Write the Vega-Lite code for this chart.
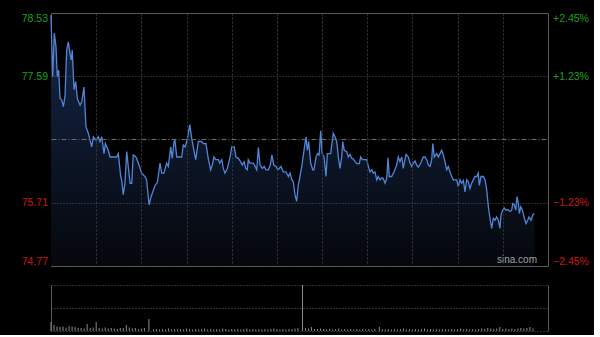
{
  "$schema": "https://vega.github.io/schema/vega-lite/v6.json",
  "background": "#000000",
  "padding": {"left": 20, "top": 11, "right": 5, "bottom": 4},
  "bounds": "flush",
  "spacing": 19,
  "config": {
    "view": {"stroke": "#5a5a5a", "strokeWidth": 1},
    "axis": {"labelFont": "Liberation Sans", "labelFontSize": 10.5, "title": null, "ticks": false, "domain": false}
  },
  "datasets": {
    "price": [
      {"t":0,"p":78.50},{"t":1.1,"p":77.58},{"t":2.2,"p":78.23},{"t":3.3,"p":78.03},{"t":4.2,"p":77.58},{"t":5.1,"p":77.68},{"t":6.0,"p":77.26},{"t":7.1,"p":77.24},{"t":8.2,"p":77.14},{"t":9.3,"p":77.29},
      {"t":10.4,"p":77.98},{"t":11.5,"p":78.10},{"t":12.6,"p":77.93},{"t":13.5,"p":77.83},{"t":14.1,"p":77.98},{"t":15.3,"p":77.39},{"t":16.4,"p":77.51},{"t":17.5,"p":77.26},{"t":19.3,"p":77.16},{"t":20.4,"p":77.21},
      {"t":21.9,"p":77.43},{"t":23.2,"p":76.84},{"t":24.8,"p":76.74},{"t":27.0,"p":76.54},{"t":28.1,"p":76.69},{"t":29.9,"p":76.64},{"t":31.4,"p":76.69},{"t":32.5,"p":76.62},{"t":33.7,"p":76.69},{"t":35.2,"p":76.44},
      {"t":36.1,"p":76.59},{"t":38.0,"p":76.49},{"t":39.2,"p":76.39},{"t":43.6,"p":76.39},{"t":44.7,"p":76.44},{"t":46.3,"p":76.10},{"t":46.9,"p":76.05},{"t":48.0,"p":75.83},{"t":49.1,"p":76.00},{"t":50.3,"p":76.47},
      {"t":51.3,"p":76.25},{"t":52.5,"p":76.00},{"t":53.6,"p":76.00},{"t":54.6,"p":76.42},{"t":56.4,"p":76.39},{"t":58.0,"p":76.30},{"t":60.2,"p":76.15},{"t":62.4,"p":76.10},{"t":63.5,"p":76.05},{"t":65.1,"p":75.68},
      {"t":66.2,"p":75.78},{"t":67.5,"p":75.87},{"t":69.1,"p":75.97},{"t":70.6,"p":76.01},{"t":72.4,"p":76.30},{"t":73.5,"p":76.15},{"t":75.0,"p":76.15},{"t":76.8,"p":76.30},{"t":77.9,"p":76.25},{"t":79.5,"p":76.54},
      {"t":80.5,"p":76.37},{"t":81.7,"p":76.62},{"t":82.3,"p":76.64},{"t":83.5,"p":76.39},{"t":86.8,"p":76.39},{"t":87.8,"p":76.57},{"t":89.0,"p":76.54},{"t":90.1,"p":76.62},{"t":91.2,"p":76.74},{"t":92.1,"p":76.87},
      {"t":93.4,"p":76.67},{"t":94.9,"p":76.49},{"t":96.1,"p":76.35},{"t":97.8,"p":76.62},{"t":100.1,"p":76.62},{"t":101.1,"p":76.59},{"t":102.9,"p":76.59},{"t":104.4,"p":76.37},{"t":106.0,"p":76.20},{"t":107.1,"p":76.27},
      {"t":108.2,"p":76.39},{"t":109.4,"p":76.35},{"t":111.1,"p":76.35},{"t":112.0,"p":76.30},{"t":113.4,"p":76.35},{"t":114.4,"p":76.22},{"t":115.5,"p":76.15},{"t":117.1,"p":76.22},{"t":118.9,"p":76.39},{"t":120.0,"p":76.54},
      {"t":121.7,"p":76.54},{"t":122.8,"p":76.39},{"t":124.4,"p":76.37},{"t":125.9,"p":76.32},{"t":127.0,"p":76.27},{"t":128.2,"p":76.32},{"t":129.3,"p":76.22},{"t":130.3,"p":76.20},{"t":131.0,"p":76.35},{"t":132.1,"p":76.30},
      {"t":134.3,"p":76.30},{"t":135.5,"p":76.25},{"t":136.6,"p":76.20},{"t":137.7,"p":76.53},{"t":138.8,"p":76.27},{"t":140.3,"p":76.22},{"t":141.6,"p":76.25},{"t":142.8,"p":76.20},{"t":144.3,"p":76.20},{"t":145.6,"p":76.27},
      {"t":146.7,"p":76.42},{"t":147.9,"p":76.27},{"t":149.4,"p":76.25},{"t":150.5,"p":76.20},{"t":151.6,"p":76.22},{"t":152.7,"p":76.25},{"t":154.2,"p":76.17},{"t":156.0,"p":76.17},{"t":157.6,"p":76.10},{"t":158.7,"p":76.15},
      {"t":159.8,"p":76.06},{"t":160.9,"p":76.02},{"t":162.0,"p":75.83},{"t":163.1,"p":75.73},{"t":164.2,"p":75.97},{"t":165.3,"p":76.10},{"t":166.5,"p":76.25},{"t":168.0,"p":76.49},{"t":169.3,"p":76.69},{"t":170.2,"p":76.49},
      {"t":171.1,"p":76.62},{"t":172.4,"p":76.30},{"t":173.8,"p":76.20},{"t":174.6,"p":76.20},{"t":176.0,"p":76.39},{"t":177.1,"p":76.44},{"t":178.0,"p":76.42},{"t":179.1,"p":76.78},{"t":180.0,"p":76.44},{"t":181.3,"p":76.39},
      {"t":182.6,"p":76.10},{"t":183.5,"p":76.44},{"t":185.7,"p":76.44},{"t":187.4,"p":76.74},{"t":188.6,"p":76.69},{"t":189.7,"p":76.62},{"t":190.8,"p":76.39},{"t":191.9,"p":76.22},{"t":193.0,"p":76.39},{"t":193.7,"p":76.62},
      {"t":194.7,"p":76.49},{"t":196.3,"p":76.47},{"t":197.4,"p":76.39},{"t":198.5,"p":76.43},{"t":199.7,"p":76.37},{"t":200.7,"p":76.36},{"t":201.9,"p":76.32},{"t":203.0,"p":76.29},{"t":204.7,"p":76.29},{"t":205.6,"p":76.39},
      {"t":206.7,"p":76.35},{"t":209.6,"p":76.35},{"t":210.7,"p":76.25},{"t":211.8,"p":76.17},{"t":212.9,"p":76.20},{"t":214.0,"p":76.15},{"t":215.1,"p":76.17},{"t":216.3,"p":76.05},{"t":217.3,"p":76.10},{"t":218.5,"p":76.05},
      {"t":219.6,"p":76.08},{"t":220.6,"p":76.07},{"t":221.8,"p":76.00},{"t":222.9,"p":76.07},{"t":223.8,"p":76.38},{"t":224.6,"p":76.10},{"t":226.2,"p":76.10},{"t":227.8,"p":76.17},{"t":229.5,"p":76.27},{"t":230.6,"p":76.39},
      {"t":231.7,"p":76.32},{"t":232.9,"p":76.39},{"t":233.9,"p":76.22},{"t":235.7,"p":76.43},{"t":237.3,"p":76.39},{"t":238.4,"p":76.30},{"t":239.5,"p":76.25},{"t":240.6,"p":76.30},{"t":241.7,"p":76.33},{"t":242.8,"p":76.27},
      {"t":243.9,"p":76.24},{"t":245.5,"p":76.30},{"t":247.2,"p":76.39},{"t":248.3,"p":76.39},{"t":249.5,"p":76.35},{"t":250.5,"p":76.27},{"t":251.7,"p":76.25},{"t":252.8,"p":76.35},{"t":253.5,"p":76.59},{"t":254.5,"p":76.39},
      {"t":256.1,"p":76.44},{"t":257.2,"p":76.39},{"t":258.3,"p":76.44},{"t":259.4,"p":76.49},{"t":260.5,"p":76.42},{"t":261.6,"p":76.32},{"t":262.7,"p":76.20},{"t":263.8,"p":76.25},{"t":264.9,"p":76.17},{"t":266.1,"p":76.10},
      {"t":267.1,"p":76.05},{"t":269.4,"p":76.05},{"t":270.4,"p":75.95},{"t":271.6,"p":76.05},{"t":272.7,"p":76.00},{"t":273.8,"p":76.04},{"t":274.9,"p":75.87},{"t":276.0,"p":76.05},{"t":277.1,"p":76.02},{"t":278.2,"p":75.92},
      {"t":279.3,"p":76.00},{"t":280.4,"p":76.05},{"t":281.5,"p":76.10},{"t":282.7,"p":76.10},{"t":283.7,"p":76.15},{"t":284.4,"p":75.97},{"t":285.5,"p":76.10},{"t":287.1,"p":76.10},{"t":288.2,"p":76.05},{"t":289.3,"p":75.90},
      {"t":290.4,"p":75.65},{"t":291.5,"p":75.48},{"t":292.6,"p":75.33},{"t":293.7,"p":75.48},{"t":294.8,"p":75.45},{"t":295.9,"p":75.50},{"t":297.0,"p":75.45},{"t":298.1,"p":75.33},{"t":298.8,"p":75.53},{"t":299.9,"p":75.60},
      {"t":301.0,"p":75.63},{"t":302.1,"p":75.60},{"t":303.2,"p":75.61},{"t":304.8,"p":75.58},{"t":305.9,"p":75.60},{"t":306.6,"p":75.70},{"t":307.6,"p":75.68},{"t":308.6,"p":75.60},{"t":309.4,"p":75.80},{"t":310.3,"p":75.70},
      {"t":311.0,"p":75.55},{"t":311.9,"p":75.65},{"t":313.0,"p":75.60},{"t":314.3,"p":75.48},{"t":315.4,"p":75.40},{"t":316.5,"p":75.45},{"t":317.4,"p":75.50},{"t":318.7,"p":75.45},{"t":319.9,"p":75.53},{"t":320.9,"p":75.55}
    ],
    "vol": [
      {"t":0,"v":90},{"t":2,"v":60},{"t":4,"v":45},{"t":6,"v":40},{"t":8,"v":45},{"t":10,"v":35},{"t":12,"v":50},{"t":14,"v":45},{"t":16,"v":40},{"t":18,"v":30},
      {"t":20,"v":30},{"t":22,"v":25},{"t":24,"v":70},{"t":26,"v":30},{"t":28,"v":35},{"t":30,"v":90},{"t":32,"v":30},{"t":34,"v":25},{"t":36,"v":35},{"t":38,"v":25},
      {"t":40,"v":30},{"t":42,"v":25},{"t":44,"v":20},{"t":46,"v":30},{"t":48,"v":30},{"t":50,"v":60},{"t":52,"v":35},{"t":54,"v":25},{"t":56,"v":30},{"t":58,"v":20},
      {"t":60,"v":25},{"t":62,"v":30},{"t":65,"v":120},{"t":68,"v":15},{"t":70,"v":20},{"t":72,"v":15},{"t":74,"v":20},{"t":76,"v":15},{"t":78,"v":25},{"t":80,"v":15},
      {"t":82,"v":20},{"t":84,"v":15},{"t":86,"v":20},{"t":88,"v":15},{"t":90,"v":25},{"t":92,"v":20},{"t":94,"v":15},{"t":96,"v":20},{"t":98,"v":15},{"t":100,"v":20},
      {"t":102,"v":25},{"t":104,"v":15},{"t":106,"v":20},{"t":108,"v":15},{"t":110,"v":20},{"t":112,"v":15},{"t":114,"v":25},{"t":116,"v":20},{"t":118,"v":15},{"t":120,"v":20},
      {"t":122,"v":15},{"t":124,"v":20},{"t":126,"v":15},{"t":128,"v":20},{"t":130,"v":25},{"t":132,"v":15},{"t":134,"v":20},{"t":136,"v":15},{"t":138,"v":20},{"t":140,"v":15},
      {"t":142,"v":20},{"t":144,"v":15},{"t":146,"v":20},{"t":148,"v":25},{"t":150,"v":20},{"t":152,"v":15},{"t":154,"v":20},{"t":156,"v":15},{"t":158,"v":20},{"t":160,"v":20},
      {"t":162,"v":25},{"t":164,"v":30},{"t":167,"v":460},{"t":169,"v":30},{"t":171,"v":25},{"t":173,"v":40},{"t":175,"v":20},{"t":177,"v":20},{"t":179,"v":25},{"t":181,"v":20},
      {"t":183,"v":15},{"t":185,"v":20},{"t":187,"v":15},{"t":189,"v":20},{"t":191,"v":25},{"t":193,"v":15},{"t":195,"v":20},{"t":197,"v":15},{"t":199,"v":20},{"t":201,"v":15},
      {"t":203,"v":20},{"t":205,"v":15},{"t":207,"v":20},{"t":209,"v":15},{"t":211,"v":20},{"t":213,"v":15},{"t":215,"v":20},{"t":218,"v":40},{"t":220,"v":20},{"t":222,"v":15},
      {"t":224,"v":20},{"t":226,"v":15},{"t":228,"v":20},{"t":230,"v":15},{"t":232,"v":20},{"t":234,"v":25},{"t":236,"v":15},{"t":238,"v":20},{"t":240,"v":15},{"t":242,"v":20},
      {"t":244,"v":15},{"t":246,"v":20},{"t":248,"v":25},{"t":250,"v":15},{"t":252,"v":20},{"t":254,"v":15},{"t":256,"v":20},{"t":258,"v":15},{"t":260,"v":20},{"t":262,"v":20},
      {"t":264,"v":15},{"t":266,"v":20},{"t":268,"v":15},{"t":270,"v":20},{"t":272,"v":25},{"t":274,"v":15},{"t":276,"v":20},{"t":278,"v":15},{"t":280,"v":20},{"t":282,"v":15},
      {"t":284,"v":20},{"t":286,"v":25},{"t":288,"v":20},{"t":290,"v":30},{"t":292,"v":25},{"t":294,"v":20},{"t":296,"v":25},{"t":298,"v":40},{"t":300,"v":20},{"t":302,"v":25},
      {"t":304,"v":20},{"t":306,"v":25},{"t":308,"v":20},{"t":310,"v":25},{"t":312,"v":30},{"t":314,"v":25},{"t":316,"v":30},{"t":318,"v":40},{"t":320,"v":25}
    ],
    "wm": [{"label": "sina.com"}]
  },
  "vconcat": [
    {
      "width": 497,
      "height": 253,
      "layer": [
        {
          "data": {"name": "price"},
          "mark": {
            "type": "area",
            "color": {"gradient": "linear", "x1": 0, "y1": 0, "x2": 0, "y2": 1,
              "stops": [{"offset": 0, "color": "#16284a"}, {"offset": 1, "color": "#05070c"}]}
          },
          "encoding": {
            "x": {
              "field": "t", "type": "quantitative",
              "scale": {"domain": [0, 330], "nice": false, "zero": false},
              "axis": {"values": [30, 60, 90, 120, 150, 180, 210, 240, 270, 300], "labels": false, "grid": true, "gridColor": "#3a3a3a", "gridDash": [2, 2], "title": null, "zindex": 1}
            },
            "y": {
              "field": "p", "type": "quantitative",
              "scale": {"domain": [74.77, 78.53], "nice": false, "zero": false},
              "axis": {
                "orient": "left",
                "zindex": 1,
                "values": [74.77, 75.71, 76.65, 77.59, 78.53],
                "labelExpr": "datum.value == 76.65 ? '' : format(datum.value, '.2f')",
                "labelFlush": true,
                "labelPadding": 3.5,
                "labelColor": {"condition": {"test": "datum.value > 76.65", "value": "#18a018"}, "value": "#d01414"},
                "grid": true,
                "gridColor": {"condition": {"test": "datum.value == 76.65", "value": "#6a6a6a"}, "value": "#555555"},
                "gridDash": {"condition": {"test": "datum.value == 76.65", "value": [5, 2, 1, 2]}, "value": [1, 2]}
              }
            },
            "y2": {"datum": 74.77}
          }
        },
        {
          "data": {"name": "price"},
          "mark": {"type": "line", "color": "#4f86d9", "strokeWidth": 1.3},
          "encoding": {
            "x": {"field": "t", "type": "quantitative"},
            "y": {
              "field": "p", "type": "quantitative",
              "axis": {
                "orient": "right",
                "values": [74.77, 75.71, 77.59, 78.53],
                "labelExpr": "(datum.value > 76.65 ? '+' : '') + format((datum.value - 76.65) / 76.65 * 100, '.2f') + '%'",
                "labelFlush": true,
                "labelPadding": 4.5,
                "grid": false,
                "labelColor": {"condition": {"test": "datum.value > 76.65", "value": "#18a018"}, "value": "#d01414"}
              }
            }
          }
        },
        {
          "data": {"name": "wm"},
          "mark": {"type": "text", "align": "right", "baseline": "bottom", "dx": -11, "dy": -1, "font": "Liberation Sans", "fontSize": 10, "fill": "#a0a0a0"},
          "encoding": {
            "text": {"field": "label", "type": "nominal"},
            "x": {"datum": 330, "type": "quantitative"},
            "y": {"datum": 74.77, "type": "quantitative", "axis": null}
          }
        }
      ],
      "resolve": {"axis": {"y": "independent"}}
    },
    {
      "width": 497,
      "height": 46,
      "data": {"name": "vol"},
      "view": {"stroke": null},
      "mark": {"type": "bar", "width": 1, "color": "#8a8a8a"},
      "encoding": {
        "x": {
          "field": "t", "type": "quantitative",
          "scale": {"domain": [0, 330], "nice": false, "zero": false, "padding": 0},
          "axis": {"values": [0, 330], "labels": false, "grid": true, "gridColor": "#5a5a5a", "gridDash": [], "title": null}
        },
        "y": {
          "field": "v", "type": "quantitative",
          "scale": {"domain": [0, 460], "nice": false, "padding": 0},
          "axis": {"values": [0, 230, 460], "labels": false, "grid": true, "gridColor": "#5f5f5f", "gridDash": [1, 2], "title": null}
        }
      }
    }
  ]
}
